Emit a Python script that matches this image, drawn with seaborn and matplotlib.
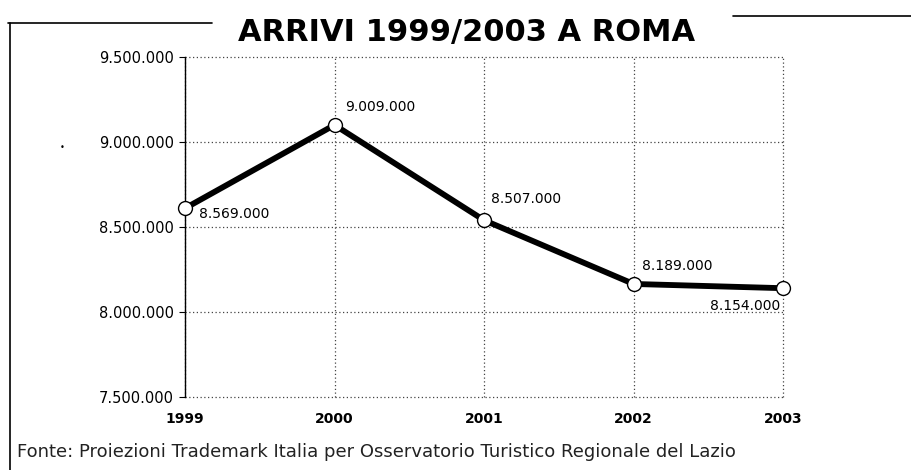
import numpy as np
import pandas as pd
import matplotlib
matplotlib.use("Agg")
import matplotlib.pyplot as plt
import matplotlib.ticker as ticker
from matplotlib.lines import Line2D
import seaborn as sns

# --- Data ---
YEARS = [1999, 2000, 2001, 2002, 2003]
# positions of the markers as drawn in the picture
ARRIVI = [8610000, 9100000, 8540000, 8165000, 8140000]
# value labels as printed next to the markers
LABELS = ["8.569.000", "9.009.000", "8.507.000", "8.189.000", "8.154.000"]
Y_TICKS = [7500000, 8000000, 8500000, 9000000, 9500000]

TITLE = "ARRIVI 1999/2003 A ROMA"
SOURCE = "Fonte: Proiezioni Trademark Italia per Osservatorio Turistico Regionale del Lazio"

sns.set_theme(style="white")
plt.rcParams['font.family'] = ['DejaVu Sans']

df = pd.DataFrame({"Anno": YEARS, "Arrivi": ARRIVI})

fig = plt.figure(figsize=(9.11, 4.70), dpi=100)
W, H = 911, 470
ax = fig.add_axes([185 / W, 1 - 397 / H, (783 - 185) / W, (397 - 57) / H])

sns.lineplot(data=df, x="Anno", y="Arrivi", ax=ax, color="black", linewidth=4.2,
             marker="o", markersize=10, markerfacecolor="white",
             markeredgecolor="black", markeredgewidth=1.0, zorder=5, clip_on=False)

ax.set_xlim(1999, 2003)
ax.set_ylim(7500000, 9500000)
ax.set_xticks(YEARS)
ax.set_yticks(Y_TICKS)
ax.yaxis.set_major_formatter(ticker.FuncFormatter(lambda v, p: f"{v:,.0f}".replace(",", ".")))
ax.set_xlabel("")
ax.set_ylabel("")

ax.grid(True, linestyle=(0, (1, 2)), color="#444444", linewidth=0.9)
for gl in ax.get_xgridlines() + ax.get_ygridlines():
    gl.set_clip_on(False)
for s in ["top", "right", "bottom"]:
    ax.spines[s].set_visible(False)
ax.spines["left"].set_color("black")
ax.spines["left"].set_linewidth(1.0)
ax.spines["left"].set_zorder(3)
ax.tick_params(axis="y", direction="out", length=4, width=0.8, color="black",
               pad=4, labelsize=10.5, left=True, labelcolor="black")
ax.tick_params(axis="x", length=0, pad=11, labelsize=10, labelcolor="black")
for lab in ax.get_xticklabels():
    lab.set_fontweight("semibold")

# value labels
offsets = [(10, -4, "left", "center"), (8, 8, "left", "bottom"), (5, 10, "left", "bottom"),
           (6, 8, "left", "bottom"), (-2, -8, "right", "top")]
for x, y, lab, (dx, dy, ha, va) in zip(YEARS, ARRIVI, LABELS, offsets):
    ax.annotate(lab, (x, y), xytext=(dx, dy), textcoords="offset points",
                ha=ha, va=va, fontsize=10, color="black", zorder=6)

# title and frame lines
fig.text(467 / W, 1 - 33 / H, TITLE, ha="center", va="center",
         fontsize=22, fontweight="bold", color="black")
fig.add_artist(Line2D([8 / W, 212 / W], [1 - 23 / H, 1 - 23 / H], transform=fig.transFigure,
                      color="black", linewidth=1.2))
fig.add_artist(Line2D([10 / W, 10 / W], [1 - 23 / H, 0], transform=fig.transFigure,
                      color="black", linewidth=1.2))
fig.add_artist(Line2D([733 / W, 1.0], [1 - 16 / H, 1 - 16 / H], transform=fig.transFigure,
                      color="black", linewidth=1.2))

fig.text(17 / W, 1 - 452 / H, SOURCE, ha="left", va="center", fontsize=13,
         family=['Liberation Sans Narrow', 'DejaVu Sans'], color="#222222")
fig.text(62 / W, 1 - 148 / H, "•", ha="center", va="center", fontsize=6, color="black")

fig.savefig("out.png", dpi=100)
